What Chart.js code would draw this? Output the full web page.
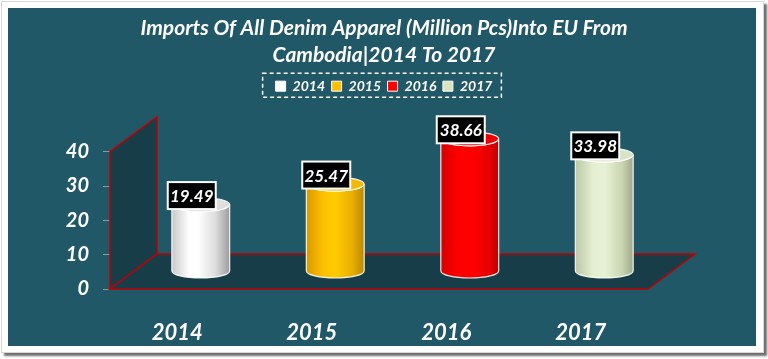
<!DOCTYPE html>
<html>
<head>
<meta charset="utf-8">
<script src="https://cdn.jsdelivr.net/npm/chart.js@4.4.0/dist/chart.umd.min.js"></script>
<style>
  html, body { margin: 0; padding: 0; background: #ffffff; }
  body { width: 768px; height: 359px; position: relative; overflow: hidden; }
  #frame {
    position: absolute; left: 1px; top: 1px; width: 761px; height: 350px;
    background: #ffffff; border: 1px solid #d8d8d8;
    box-shadow: 3px 3px 2px #6e6e6e;
  }
  #panel {
    position: absolute; left: 8px; top: 8px; width: 748px; height: 338px;
    background: #215867;
  }
  #wrap { position: absolute; left: 0; top: 0; width: 768px; height: 359px; }
</style>
</head>
<body>
<div id="frame"></div>
<div id="panel"></div>
<div id="wrap"><canvas id="chart"></canvas></div>
<script>
// data
const categories = ["2014", "2015", "2016", "2017"];
const imports = [19.49, 25.47, 38.66, 33.98];
const yTicks = [0, 10, 20, 30, 40];
const titleLines = ["Imports Of All Denim Apparel (Million Pcs)Into EU From", "Cambodia|2014 To 2017"];

// colours
const legendColors = ["#ffffff", "#ffc000", "#ff0000", "#d7e4bd"];
const topColors = ["#dedede", "#f5b800", "#f20000", "#d9e3c6"];
const bodyStops = [
  [[0, "#c8c8c8"], [0.3, "#ffffff"], [0.45, "#ffffff"], [0.75, "#dedede"], [1, "#9c9c9c"]],
  [[0, "#d99a00"], [0.3, "#ffc000"], [0.5, "#ffcc00"], [0.8, "#e8ad00"], [1, "#b98900"]],
  [[0, "#d40000"], [0.3, "#ff0000"], [0.55, "#ff0000"], [0.85, "#e60000"], [1, "#b80000"]],
  [[0, "#bcc7a6"], [0.3, "#e4eed0"], [0.5, "#e8f2d6"], [0.8, "#cbd6b4"], [1, "#9fa98a"]]
];
const wallColor = "#173d48";
const edgeColor = "#c00000";
const FONT = "Lato";

// depth of the fake 3d box
const DEPTH_X = 47;
const DEPTH_Y = -35;

function drawCylinder(ctx, cx, top, base, rx, ry, stops, topColor) {
  const g = ctx.createLinearGradient(cx - rx, 0, cx + rx, 0);
  stops.forEach(s => g.addColorStop(s[0], s[1]));
  ctx.beginPath();
  ctx.moveTo(cx - rx, top);
  ctx.lineTo(cx - rx, base);
  ctx.ellipse(cx, base, rx, ry, 0, Math.PI, 0, true);
  ctx.lineTo(cx + rx, top);
  ctx.ellipse(cx, top, rx, ry, 0, 0, Math.PI, false);
  ctx.closePath();
  ctx.fillStyle = g;
  ctx.fill();
  ctx.strokeStyle = "rgba(255,255,255,0.9)";
  ctx.lineWidth = 1.2;
  ctx.stroke();

  ctx.beginPath();
  ctx.ellipse(cx, top, rx, ry, 0, 0, Math.PI * 2);
  ctx.fillStyle = topColor;
  ctx.fill();
  ctx.stroke();
}

const box3d = {
  id: "box3d",
  beforeDatasetsDraw(chart) {
    const ctx = chart.ctx;
    const a = chart.chartArea;
    const y = chart.scales.y;
    const y0 = y.getPixelForValue(0);
    const yTop = y.getPixelForValue(yTicks[yTicks.length - 1]);
    ctx.save();
    ctx.lineWidth = 1.5;
    ctx.strokeStyle = edgeColor;
    ctx.fillStyle = wallColor;
    // left wall
    ctx.beginPath();
    ctx.moveTo(a.left, y0);
    ctx.lineTo(a.left, yTop);
    ctx.lineTo(a.left + DEPTH_X, yTop + DEPTH_Y);
    ctx.lineTo(a.left + DEPTH_X, y0 + DEPTH_Y);
    ctx.closePath();
    ctx.fill();
    ctx.stroke();
    // floor
    ctx.beginPath();
    ctx.moveTo(a.left, y0);
    ctx.lineTo(a.right, y0);
    ctx.lineTo(a.right + DEPTH_X, y0 + DEPTH_Y);
    ctx.lineTo(a.left + DEPTH_X, y0 + DEPTH_Y);
    ctx.closePath();
    ctx.fill();
    ctx.stroke();
    ctx.restore();
  },
  beforeDatasetDraw() {
    return false; // bars are drawn as cylinders below
  },
  afterDatasetsDraw(chart) {
    const ctx = chart.ctx;
    const meta = chart.getDatasetMeta(0);
    const dx = DEPTH_X / 2, dy = DEPTH_Y / 2;
    ctx.save();
    meta.data.forEach((bar, i) => {
      const p = bar.getProps(["x", "y", "base", "width"], true);
      drawCylinder(ctx, p.x + dx, p.y + dy, p.base + dy, p.width / 2, 7, bodyStops[i], topColors[i]);
    });
    // value labels
    ctx.font = "italic bold 17px " + FONT;
    ctx.textAlign = "center";
    ctx.textBaseline = "middle";
    meta.data.forEach((bar, i) => {
      const p = bar.getProps(["x", "y"], true);
      const bx = p.x + dx - 9, by = p.y + dy - 9;
      ctx.fillStyle = "#000000";
      ctx.fillRect(bx - 24, by - 13.5, 48, 27);
      ctx.strokeStyle = "#ffffff";
      ctx.lineWidth = 2;
      ctx.strokeRect(bx - 24, by - 13.5, 48, 27);
      ctx.fillStyle = "#ffffff";
      ctx.fillText(imports[i].toFixed(2), bx, by + 1);
    });
    ctx.restore();
  },
  afterDraw(chart) {
    // dashed frame round the legend
    const hb = chart.legend.legendHitBoxes;
    if (!hb || !hb.length) return;
    const first = hb[0], last = hb[hb.length - 1];
    const ctx = chart.ctx;
    ctx.save();
    ctx.strokeStyle = "#ffffff";
    ctx.lineWidth = 1.5;
    ctx.setLineDash([4, 3]);
    ctx.strokeRect(first.left - 13, first.top - 6, last.left + last.width + 22 - first.left, first.height + 10);
    ctx.restore();
  }
};

const ctx = document.getElementById("chart").getContext("2d");
const chart = new Chart(ctx, {
  type: "bar",
  data: {
    labels: categories,
    datasets: [
      {
        label: "Imports",
        data: imports,
        backgroundColor: legendColors,
        barPercentage: 0.43,
        categoryPercentage: 1,
      },
    ],
  },
  options: {
    responsive: true,
    maintainAspectRatio: false,
    animation: false,
    layout: { padding: 0 },
    plugins: {
      title: {
        display: true,
        text: titleLines,
        color: "#ffffff",
        font: { family: FONT, size: 21, style: "italic", weight: "bold", lineHeight: 1.29 },
        padding: { top: 14.5, bottom: 4 },
      },
      subtitle: {
        // empty spacer between legend and plot
        display: true,
        text: "",
        weight: 500,
        font: { size: 12, lineHeight: 1 },
        padding: { top: 36.5, bottom: 0 },
      },
      legend: {
        display: true,
        position: "top",
        labels: {
          color: "#ffffff",
          font: { family: FONT, size: 14, style: "italic", weight: "bold" },
          boxWidth: 10,
          boxHeight: 10,
          padding: 6.5,
          generateLabels: () =>
            categories.map((c, i) => ({
              text: c,
              fillStyle: legendColors[i],
              strokeStyle: "#ffffff",
              lineWidth: 1,
              fontColor: "#ffffff",
              index: i,
            })),
        },
        onClick: null,
      },
      tooltip: { enabled: false },
    },
    scales: {
      x: {
        afterFit: s => { s.height = 70; },
        grid: { display: false },
        border: { display: false },
        ticks: {
          color: "#ffffff",
          padding: 23,
          font: { family: FONT, size: 22, style: "italic", weight: "bold" },
        },
      },
      y: {
        min: yTicks[0],
        max: yTicks[yTicks.length - 1],
        afterFit: s => { s.width = 110; },
        afterBuildTicks: s => { s.ticks = yTicks.map(v => ({ value: v })); },
        grid: { drawOnChartArea: false, drawTicks: true, tickLength: 7, color: "#8a9ca3" },
        border: { display: false },
        ticks: {
          color: "#ffffff",
          padding: 14,
          font: { family: FONT, size: 20, style: "italic", weight: "bold" },
        },
      },
      // empty right-hand spacer so the plot ends where the floor does
      side: {
        position: "right",
        min: 0,
        max: 1,
        afterFit: s => { s.width = 120; },
        grid: { display: false },
        border: { display: false },
        ticks: { display: false },
      },
    },
  },
  plugins: [box3d],
});
</script>
</body>
</html>
